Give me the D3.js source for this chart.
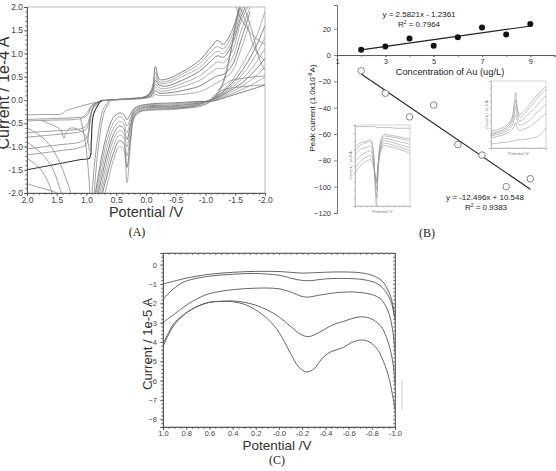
<!DOCTYPE html>
<html>
<head>
<meta charset="utf-8">
<script src="https://cdn.jsdelivr.net/npm/d3@7"></script>
<style>
body { margin: 0; background: #fff; }
text { font-family: "Liberation Sans", Arial, sans-serif; }
.cap { font-family: "Liberation Serif", "DejaVu Serif", serif; }
</style>
</head>
<body>
<script>
// ---------------- data ----------------
// (A) cyclic voltammograms, Current / 1e-4 A vs Potential /V
var aTicks = [2.0, 1.5, 1.0, 0.5, 0.0, -0.5, -1.0, -1.5, -2.0];
var aTickLabels = ["2.0", "1.5", "1.0", "0.5", "0.0", "-0.5", "-1.0", "-1.5", "-2.0"];
var aCathV = [0.65, 0.3, 0.0, -0.1, -0.16, -0.22, -0.35, -0.6, -0.9, -1.1, -1.2, -1.3, -1.45, -1.6, -1.75];
var aCath = [
    [0.0, 0.03, 0.08, 0.25, 0.72, 0.45, 0.45, 0.6, 0.85, 1.15, 1.28, 1.2, 1.5, 2.1, 2.5],
    [0.0, 0.03, 0.08, 0.22, 0.6, 0.4, 0.4, 0.55, 0.78, 1.05, 1.15, 1.1, 1.4, 2.0, 2.4],
    [0.0, 0.03, 0.07, 0.2, 0.5, 0.36, 0.36, 0.5, 0.7, 0.95, 1.05, 1.0, 1.3, 1.9, 2.3],
    [0.0, 0.02, 0.07, 0.18, 0.42, 0.32, 0.3, 0.42, 0.62, 0.85, 0.95, 0.92, 1.2, 1.8, 2.2],
    [0.0, 0.02, 0.06, 0.15, 0.35, 0.26, 0.25, 0.35, 0.52, 0.72, 0.82, 0.8, 1.05, 1.7, 2.1],
    [0.0, 0.02, 0.05, 0.12, 0.28, 0.2, 0.2, 0.28, 0.42, 0.6, 0.68, 0.68, 0.9, 1.5, 2.0],
    [0.0, 0.02, 0.05, 0.1, 0.2, 0.15, 0.15, 0.2, 0.3, 0.45, 0.52, 0.55, 0.75, 1.3, 1.9],
    [0.0, 0.01, 0.04, 0.07, 0.12, 0.1, 0.1, 0.12, 0.18, 0.3, 0.38, 0.45, 0.62, 1.1, 1.7]
];
var aAnodV = [-2.0, -1.85, -1.7, -1.55, -1.4, -1.25, -1.1, -0.9, -0.5, -0.1, 0.1, 0.2, 0.26, 0.32, 0.38, 0.45, 0.55, 0.65, 0.75, 0.85];
var aAnod = [
    [1.9, 1.35, 0.95, 0.62, 0.35, 0.15, 0.02, -0.1, -0.2, -0.22, -0.26, -0.4, -0.95, -1.78, -1.05, -1.0, -1.3, -1.8, -2.3, -2.8],
    [1.6, 1.15, 0.8, 0.52, 0.3, 0.13, 0.02, -0.09, -0.18, -0.2, -0.24, -0.36, -0.82, -1.45, -0.92, -0.88, -1.15, -1.6, -2.1, -2.6],
    [1.35, 0.98, 0.68, 0.45, 0.26, 0.11, 0.01, -0.08, -0.16, -0.18, -0.22, -0.33, -0.72, -1.2, -0.8, -0.76, -1.0, -1.45, -2.0, -2.5],
    [1.1, 0.8, 0.56, 0.38, 0.22, 0.1, 0.0, -0.07, -0.14, -0.16, -0.2, -0.3, -0.62, -1.0, -0.7, -0.66, -0.86, -1.3, -1.85, -2.4],
    [0.9, 0.66, 0.46, 0.31, 0.19, 0.08, 0.0, -0.06, -0.12, -0.14, -0.18, -0.27, -0.53, -0.85, -0.6, -0.56, -0.75, -1.15, -1.7, -2.3],
    [0.7, 0.52, 0.37, 0.25, 0.15, 0.06, -0.01, -0.05, -0.1, -0.12, -0.16, -0.24, -0.45, -0.7, -0.5, -0.46, -0.62, -1.0, -1.55, -2.2],
    [0.5, 0.38, 0.28, 0.19, 0.11, 0.04, -0.02, -0.04, -0.08, -0.1, -0.14, -0.21, -0.38, -0.56, -0.4, -0.36, -0.5, -0.85, -1.4, -2.1],
    [0.32, 0.26, 0.2, 0.14, 0.08, 0.02, -0.03, -0.03, -0.06, -0.08, -0.12, -0.18, -0.3, -0.42, -0.3, -0.28, -0.38, -0.7, -1.25, -2.0]
];
// scans coming back from +2.0 V (left side)
var aLeft = [
    [[2.0, -0.32], [1.7, -0.31], [1.42, -0.3], [1.35, -0.24], [1.2, -0.17], [1.0, -0.1], [0.8, -0.04], [0.65, 0.0]],
    [[2.0, -0.42], [1.6, -0.4], [1.2, -0.38], [1.05, -0.35], [0.98, -0.25], [0.9, -0.1], [0.75, -0.02], [0.65, 0.0]],
    [[2.0, -0.45], [1.5, -0.43], [1.2, -0.42], [1.05, -0.38], [0.97, -0.3], [0.92, -0.15], [0.8, -0.04], [0.65, 0.0]],
    [[2.0, -0.7], [1.5, -0.66], [1.1, -0.62], [1.0, -0.55], [0.93, -0.3], [0.85, -0.08], [0.7, 0.0]],
    [[2.0, -0.8], [1.5, -0.74], [1.1, -0.68], [1.0, -0.62], [0.94, -0.4], [0.87, -0.1], [0.7, 0.0]],
    [[2.0, -1.05], [1.5, -0.97], [1.1, -0.9], [1.0, -0.82], [0.95, -0.55], [0.88, -0.15], [0.72, 0.0]],
    [[2.0, -1.18], [1.5, -1.1], [1.1, -1.02], [1.0, -0.95], [0.96, -0.7], [0.9, -0.2], [0.73, 0.0]],
    [[2.0, -1.5], [1.5, -1.38], [1.1, -1.28], [0.95, -1.25], [0.92, -0.9], [0.88, -0.3], [0.75, 0.0]],
    [[1.75, -0.45], [1.55, -0.55], [1.43, -0.65], [1.38, -0.82], [1.34, -0.68], [1.25, -0.6], [1.1, -0.66], [1.0, -0.8], [0.95, -1.1]]
];
// other traces: lower-left arcs, steep drops near 0.9 V, right-hand arcs
var aOther = [
    [[2.0, -0.6], [1.8, -0.75], [1.6, -1.0], [1.45, -1.35], [1.3, -1.85], [1.25, -2.1]],
    [[2.0, -0.9], [1.8, -1.1], [1.6, -1.4], [1.5, -1.7], [1.4, -2.1]],
    [[2.0, -1.25], [1.8, -1.45], [1.65, -1.75], [1.55, -2.1]],
    [[2.0, -1.8], [1.8, -1.88], [1.6, -1.95], [1.4, -2.05]],
    [[0.62, -0.02], [0.72, -0.2], [0.8, -0.7], [0.86, -1.3], [0.9, -1.9], [0.92, -2.2]],
    [[0.6, -0.02], [0.7, -0.25], [0.78, -0.8], [0.84, -1.5], [0.88, -2.2]],
    [[1.1, -0.4], [1.02, -0.9], [0.97, -1.5], [0.94, -2.1]],
    [[0.0, -0.1], [-0.5, -0.15], [-0.9, -0.12], [-1.1, 0.0], [-1.25, 0.25], [-1.4, 0.9], [-1.5, 1.6], [-1.58, 2.1]],
    [[0.0, -0.15], [-0.5, -0.18], [-0.9, -0.14], [-1.1, -0.02], [-1.28, 0.3], [-1.42, 1.0], [-1.52, 1.7], [-1.6, 2.1]],
    [[-1.1, 0.05], [-1.3, 0.22], [-1.5, 0.27], [-1.75, 0.3], [-2.0, 0.33]],
    [[-1.2, 0.2], [-1.4, 0.4], [-1.7, 0.48], [-2.0, 0.52]],
    [[-1.48, 2.1], [-1.6, 1.75], [-1.75, 1.45], [-1.9, 1.28], [-2.0, 1.2]],
    [[-1.55, 2.1], [-1.7, 1.6], [-1.85, 1.05], [-2.0, 0.85]],
    [[-1.62, 2.1], [-1.78, 1.5], [-1.9, 0.9], [-2.0, 0.65]]
];

// (B) calibration: peak current vs concentration of Au
var bConc = [2, 3, 4, 5, 6, 7, 8, 9];
var bCathodic = [4, 6.5, 12.5, 7, 13.5, 21, 15.5, 23.5];
var bAnodic = [-12, -29, -47, -38, -68, -76, -100, -94];
var bFitUp = { slope: 2.5821, intercept: -1.2361 };
var bFitDown = { slope: -12.496, intercept: 10.548 };
var bYTicks = [20, 0, -20, -40, -60, -80, -100, -120];
var bXTicks = [1, 3, 5, 7, 9];
// (B) insets, normalised potential / current
var insLX = [0, 0.1, 0.2, 0.28, 0.33, 0.36, 0.39, 0.42, 0.46, 0.52, 0.6, 0.75, 0.9, 1.0];
var insL = [
    [0.73, 0.78, 0.8, 0.82, 0.7, 0.35, 0.0, 0.4, 0.78, 0.88, 0.88, 0.86, 0.84, 0.83],
    [0.69, 0.75, 0.78, 0.8, 0.68, 0.35, 0.1, 0.45, 0.76, 0.86, 0.86, 0.84, 0.82, 0.8],
    [0.63, 0.7, 0.72, 0.74, 0.62, 0.38, 0.2, 0.45, 0.73, 0.83, 0.83, 0.8, 0.78, 0.76],
    [0.55, 0.62, 0.66, 0.68, 0.58, 0.4, 0.28, 0.5, 0.7, 0.8, 0.8, 0.77, 0.74, 0.72],
    [0.47, 0.55, 0.6, 0.62, 0.55, 0.42, 0.32, 0.52, 0.68, 0.77, 0.77, 0.74, 0.71, 0.68],
    [0.41, 0.5, 0.55, 0.57, 0.5, 0.4, 0.3, 0.5, 0.65, 0.74, 0.74, 0.71, 0.68, 0.64],
    [0.98, 0.98, 0.98, 0.98, 0.98, 0.98, 0.97, 0.97, 0.97, 0.97, 0.97, 0.96, 0.96, 0.96]
];
var insRX = [0, 0.1, 0.2, 0.3, 0.38, 0.42, 0.45, 0.48, 0.52, 0.6, 0.7, 0.8, 0.9, 1.0];
var insR = [
    [0.25, 0.27, 0.3, 0.35, 0.45, 0.65, 0.83, 0.6, 0.5, 0.55, 0.65, 0.75, 0.85, 0.92],
    [0.22, 0.24, 0.27, 0.32, 0.42, 0.58, 0.72, 0.55, 0.46, 0.5, 0.6, 0.7, 0.8, 0.88],
    [0.2, 0.22, 0.25, 0.29, 0.38, 0.5, 0.62, 0.48, 0.4, 0.44, 0.52, 0.6, 0.7, 0.78],
    [0.18, 0.2, 0.22, 0.26, 0.33, 0.42, 0.5, 0.4, 0.34, 0.36, 0.42, 0.5, 0.58, 0.65],
    [0.15, 0.17, 0.19, 0.22, 0.27, 0.32, 0.38, 0.3, 0.26, 0.28, 0.32, 0.38, 0.45, 0.52],
    [0.06, 0.07, 0.08, 0.09, 0.1, 0.11, 0.12, 0.12, 0.12, 0.13, 0.14, 0.16, 0.2, 0.3]
];

// (C) stripping curves, Current / 1e-5 A
var cTicks = [1.0, 0.8, 0.6, 0.4, 0.2, 0.0, -0.2, -0.4, -0.6, -0.8, -1.0];
var cTickLabels = ["1.0", "0.8", "0.6", "0.4", "0.2", "-0.0", "-0.2", "-0.4", "-0.6", "-0.8", "-1.0"];
var cYTicks = [0, -1, -2, -3, -4, -5, -6, -7, -8];
var cCurves = [
    [[1.0, -1.0], [0.9, -0.85], [0.8, -0.7], [0.6, -0.5], [0.4, -0.4], [0.2, -0.35], [0.0, -0.36], [-0.1, -0.4], [-0.2, -0.44], [-0.3, -0.42], [-0.5, -0.38], [-0.7, -0.42], [-0.8, -0.55], [-0.88, -0.8], [-0.93, -1.2], [-0.97, -1.8], [-1.0, -2.8]],
    [[1.0, -1.8], [0.9, -1.2], [0.8, -0.85], [0.6, -0.6], [0.4, -0.5], [0.2, -0.46], [0.0, -0.55], [-0.1, -0.7], [-0.2, -0.82], [-0.27, -0.83], [-0.4, -0.74], [-0.6, -0.72], [-0.75, -0.8], [-0.85, -1.0], [-0.92, -1.4], [-0.97, -2.0], [-1.0, -2.9]],
    [[1.0, -3.0], [0.9, -2.55], [0.8, -2.1], [0.7, -1.75], [0.6, -1.5], [0.4, -1.3], [0.2, -1.22], [0.0, -1.25], [-0.1, -1.42], [-0.2, -1.65], [-0.25, -1.68], [-0.35, -1.58], [-0.5, -1.45], [-0.65, -1.42], [-0.8, -1.55], [-0.88, -1.8], [-0.94, -2.4], [-0.98, -3.4], [-1.0, -4.6]],
    [[1.0, -4.1], [0.95, -3.5], [0.9, -3.0], [0.8, -2.5], [0.7, -2.15], [0.6, -1.95], [0.5, -1.9], [0.4, -1.88], [0.3, -1.95], [0.2, -2.1], [0.1, -2.35], [0.0, -2.7], [-0.1, -3.2], [-0.2, -3.65], [-0.26, -3.72], [-0.35, -3.5], [-0.45, -3.15], [-0.55, -2.95], [-0.7, -2.7], [-0.8, -2.82], [-0.88, -3.2], [-0.94, -4.0], [-0.98, -5.0], [-1.0, -6.2]],
    [[1.0, -4.25], [0.95, -3.6], [0.9, -3.1], [0.8, -2.5], [0.7, -2.15], [0.6, -1.95], [0.5, -1.9], [0.4, -1.92], [0.3, -2.05], [0.2, -2.35], [0.1, -2.8], [0.0, -3.5], [-0.1, -4.6], [-0.17, -5.3], [-0.24, -5.55], [-0.3, -5.4], [-0.38, -4.8], [-0.45, -4.5], [-0.55, -4.3], [-0.62, -4.05], [-0.7, -3.9], [-0.78, -4.0], [-0.85, -4.4], [-0.9, -5.0], [-0.95, -5.9], [-1.0, -7.5]]
];

// ---------------- drawing ----------------
var svg = d3.select("body").append("svg")
    .attr("width", 556)
    .attr("height", 471);

function styleAxis(sel, size, color) {
    sel.select(".domain").attr("stroke", "#555").attr("stroke-width", 0.8);
    sel.selectAll(".tick line").attr("stroke", "#555").attr("stroke-width", 0.7);
    sel.selectAll("text").attr("font-size", size).attr("fill", color || "#444")
        .attr("font-family", "'Liberation Sans', Arial, sans-serif");
}

// ===== (A) =====
var xA = d3.scaleLinear().domain([2, -2]).range([27, 265]);
var yA = d3.scaleLinear().domain([-2, 2]).range([193, 7]);
var gA = svg.append("g");

gA.append("clipPath").attr("id", "clipA")
    .append("rect").attr("x", 27).attr("y", 7).attr("width", 238).attr("height", 186);

var lineA = d3.line()
    .x(function(d) { return xA(d[0]); })
    .y(function(d) { return yA(d[1]); })
    .curve(d3.curveCatmullRom);

var curvesA = gA.append("g").attr("clip-path", "url(#clipA)");
aCath.forEach(function(vals, i) {
    curvesA.append("path").attr("d", lineA(d3.zip(aCathV, vals)))
        .attr("fill", "none").attr("stroke", i % 3 == 0 ? "#666" : "#999").attr("stroke-width", 0.8);
});
aAnod.forEach(function(vals, i) {
    curvesA.append("path").attr("d", lineA(d3.zip(aAnodV, vals)))
        .attr("fill", "none").attr("stroke", i % 3 == 1 ? "#666" : "#999").attr("stroke-width", 0.8);
});
aLeft.concat(aOther).forEach(function(pts, i) {
    curvesA.append("path").attr("d", lineA(pts))
        .attr("fill", "none").attr("stroke", i == 7 ? "#333" : "#888").attr("stroke-width", i == 7 ? 1.1 : 0.8);
});

// frame
gA.append("rect").attr("x", 27).attr("y", 7).attr("width", 238).attr("height", 186)
    .attr("fill", "none").attr("stroke", "#aaa").attr("stroke-width", 0.8);

var minorA = d3.range(-20, 21).map(function(d) { return d / 10; });
gA.append("g").attr("transform", "translate(0,193)")
    .call(d3.axisBottom(xA).tickValues(minorA).tickSize(2).tickFormat(""))
    .call(styleAxis, 0);
gA.append("g").attr("transform", "translate(0,193)")
    .call(d3.axisBottom(xA).tickValues(aTicks).tickSize(3).tickPadding(1)
        .tickFormat(function(d, i) { return aTickLabels[i]; }))
    .call(styleAxis, "8.5px");
gA.append("g").attr("transform", "translate(27,0)")
    .call(d3.axisLeft(yA).tickValues(minorA).tickSize(2).tickFormat(""))
    .call(styleAxis, 0);
gA.append("g").attr("transform", "translate(27,0)")
    .call(d3.axisLeft(yA).tickValues(aTicks).tickSize(3).tickPadding(1)
        .tickFormat(function(d) { return d.toFixed(1); }))
    .call(styleAxis, "8.5px");

gA.append("text").attr("x", 146).attr("y", 217).attr("text-anchor", "middle")
    .attr("font-size", "14.5px").attr("fill", "#333").text("Potential /V");
// the reference crops this title at the left edge of the figure
gA.append("text").attr("transform", "translate(9,93) rotate(-90)").attr("text-anchor", "middle")
    .attr("font-size", "16px").attr("fill", "#333").text("Current / 1e-4 A");
gA.append("text").attr("class", "cap").attr("x", 137).attr("y", 236).attr("text-anchor", "middle")
    .attr("font-size", "12px").attr("fill", "#222").text("(A)");

// ===== (B) =====
var xB = d3.scaleLinear().domain([1, 10]).range([337, 554.5]);
var yB = d3.scaleLinear().domain([-120, 38]).range([213, 5]);
var gB = svg.append("g");

gB.append("g").attr("transform", "translate(337,0)")
    .call(d3.axisLeft(yB).tickValues(bYTicks).tickSize(3).tickPadding(3))
    .call(styleAxis, "7.5px", "#333");
gB.append("g").attr("transform", "translate(0," + yB(0) + ")")
    .call(d3.axisBottom(xB).tickValues(d3.range(2, 11)).tickSize(2).tickFormat(""))
    .call(styleAxis, 0);
gB.append("g").attr("transform", "translate(0," + yB(0) + ")")
    .call(d3.axisBottom(xB).tickValues(bXTicks).tickSize(2).tickPadding(1.5))
    .call(styleAxis, "7.5px", "#333");

gB.append("text").attr("x", 450).attr("y", 75).attr("text-anchor", "middle")
    .attr("font-size", "9.3px").attr("fill", "#222").text("Concentration of Au (ug/L)");
var yLab = gB.append("text").attr("transform", "translate(315,108) rotate(-90)")
    .attr("text-anchor", "middle").attr("font-size", "8px").attr("fill", "#222");
yLab.append("tspan").text("Peak current (1.0x10");
yLab.append("tspan").attr("font-size", "5.5px").attr("dy", "-3").text("-6");
yLab.append("tspan").attr("dy", "3").text("A)");

// insets (drawn under the trend lines)
function drawInset(x0, y0, w, h, xs, series, yTitle) {
    var xi = d3.scaleLinear().domain([0, 1]).range([x0, x0 + w]);
    var yi = d3.scaleLinear().domain([0, 1]).range([y0 + h, y0]);
    var gi = gB.append("g");
    gi.append("rect").attr("x", x0).attr("y", y0).attr("width", w).attr("height", h)
        .attr("fill", "#fff").attr("stroke", "#bbb").attr("stroke-width", 0.6);
    gi.append("g").attr("transform", "translate(0," + (y0 + h) + ")")
        .call(d3.axisBottom(xi).ticks(14).tickSize(1.5).tickFormat(""))
        .call(styleAxis, 0);
    gi.append("g").attr("transform", "translate(" + x0 + ",0)")
        .call(d3.axisLeft(yi).ticks(10).tickSize(1.5).tickFormat(""))
        .call(styleAxis, 0);
    gi.selectAll(".domain, .tick line").attr("stroke", "#999").attr("stroke-width", 0.5);
    var li = d3.line().x(function(d) { return xi(d[0]); }).y(function(d) { return yi(d[1]); })
        .curve(d3.curveCatmullRom);
    series.forEach(function(vals) {
        gi.append("path").attr("d", li(d3.zip(xs, vals)))
            .attr("fill", "none").attr("stroke", "#999").attr("stroke-width", 0.6);
    });
    gi.append("text").attr("x", x0 + w / 2).attr("y", y0 + h + 7).attr("text-anchor", "middle")
        .attr("font-size", "4px").attr("fill", "#777").text("Potential /V");
    gi.append("text").attr("transform", "translate(" + (x0 - 3) + "," + (y0 + h / 2) + ") rotate(-90)")
        .attr("text-anchor", "middle").attr("font-size", "4px").attr("fill", "#777").text(yTitle);
}
drawInset(355, 125, 55, 81, insLX, insL, "Current / 1e-4 A");
drawInset(491, 81, 55, 67, insRX, insR, "Current / 1e-5 A");

// trend lines
[bFitUp, bFitDown].forEach(function(f) {
    gB.append("line")
        .attr("x1", xB(2)).attr("y1", yB(f.slope * 2 + f.intercept))
        .attr("x2", xB(9)).attr("y2", yB(f.slope * 9 + f.intercept))
        .attr("stroke", "#222").attr("stroke-width", 1.1);
});

gB.selectAll(".dotUp").data(d3.zip(bConc, bCathodic)).enter().append("circle")
    .attr("cx", function(d) { return xB(d[0]); }).attr("cy", function(d) { return yB(d[1]); })
    .attr("r", 3).attr("fill", "#111");
gB.selectAll(".dotDown").data(d3.zip(bConc, bAnodic)).enter().append("circle")
    .attr("cx", function(d) { return xB(d[0]); }).attr("cy", function(d) { return yB(d[1]); })
    .attr("r", 3.3).attr("fill", "#fff").attr("stroke", "#666").attr("stroke-width", 0.8);

gB.append("text").attr("x", 419).attr("y", 16.5).attr("text-anchor", "middle")
    .attr("font-size", "8px").attr("fill", "#222").text("y = 2.5821x - 1.2361");
var r1 = gB.append("text").attr("x", 419).attr("y", 26.5).attr("text-anchor", "middle")
    .attr("font-size", "8px").attr("fill", "#222");
r1.append("tspan").text("R");
r1.append("tspan").attr("font-size", "5px").attr("dy", "-3").text("2");
r1.append("tspan").attr("dy", "3").text(" = 0.7964");
gB.append("text").attr("x", 485).attr("y", 199.5).attr("text-anchor", "middle")
    .attr("font-size", "8px").attr("fill", "#222").text("y = -12.496x + 10.548");
var r2 = gB.append("text").attr("x", 486).attr("y", 209.5).attr("text-anchor", "middle")
    .attr("font-size", "8px").attr("fill", "#222");
r2.append("tspan").text("R");
r2.append("tspan").attr("font-size", "5px").attr("dy", "-3").text("2");
r2.append("tspan").attr("dy", "3").text(" = 0.9383");

gB.append("text").attr("class", "cap").attr("x", 427).attr("y", 237).attr("text-anchor", "middle")
    .attr("font-size", "12px").attr("fill", "#222").text("(B)");

// ===== (C) =====
var xC = d3.scaleLinear().domain([1, -1]).range([163, 395]);
var yC = d3.scaleLinear().domain([-8.4, 0.6]).range([427, 253]);
var gC = svg.append("g");

gC.append("clipPath").attr("id", "clipC")
    .append("rect").attr("x", 163).attr("y", 253).attr("width", 232).attr("height", 174);

var lineC = d3.line()
    .x(function(d) { return xC(d[0]); })
    .y(function(d) { return yC(d[1]); })
    .curve(d3.curveCatmullRom);
gC.append("g").attr("clip-path", "url(#clipC)").selectAll("path")
    .data(cCurves).enter().append("path")
    .attr("d", lineC).attr("fill", "none").attr("stroke", "#555").attr("stroke-width", 0.9);

gC.append("rect").attr("x", 163).attr("y", 253).attr("width", 232).attr("height", 174)
    .attr("fill", "none").attr("stroke", "#888").attr("stroke-width", 0.8);

var minorCx = d3.range(-20, 21).map(function(d) { return d / 20; });
var minorCy = d3.range(-42, 4).map(function(d) { return d / 5; });
gC.append("g").attr("transform", "translate(0,427)")
    .call(d3.axisBottom(xC).tickValues(minorCx).tickSize(2).tickFormat(""))
    .call(styleAxis, 0);
gC.append("g").attr("transform", "translate(0,253)")
    .call(d3.axisBottom(xC).tickValues(minorCx).tickSize(2).tickFormat(""))
    .call(styleAxis, 0);
gC.append("g").attr("transform", "translate(0,427)")
    .call(d3.axisBottom(xC).tickValues(cTicks).tickSize(3).tickPadding(1)
        .tickFormat(function(d, i) { return cTickLabels[i]; }))
    .call(styleAxis, "7.5px");
gC.append("g").attr("transform", "translate(163,0)")
    .call(d3.axisLeft(yC).tickValues(minorCy).tickSize(2).tickFormat(""))
    .call(styleAxis, 0);
gC.append("g").attr("transform", "translate(395,0)")
    .call(d3.axisLeft(yC).tickValues(minorCy).tickSize(2).tickFormat(""))
    .call(styleAxis, 0);
gC.append("g").attr("transform", "translate(163,0)")
    .call(d3.axisLeft(yC).tickValues(cYTicks).tickSize(3).tickPadding(3))
    .call(styleAxis, "7.5px");

// faint stray mark at right of (C)
gC.append("line").attr("x1", 402).attr("y1", 380).attr("x2", 402).attr("y2", 410)
    .attr("stroke", "#ccc").attr("stroke-width", 1);

gC.append("text").attr("x", 277).attr("y", 449.5).attr("text-anchor", "middle")
    .attr("font-size", "13.5px").attr("fill", "#333").text("Potential /V");
gC.append("text").attr("transform", "translate(152,344) rotate(-90)").attr("text-anchor", "middle")
    .attr("font-size", "13px").attr("fill", "#333").text("Current / 1e-5 A");
gC.append("text").attr("class", "cap").attr("x", 277).attr("y", 464).attr("text-anchor", "middle")
    .attr("font-size", "12px").attr("fill", "#222").text("(C)");
</script>
</body>
</html>
